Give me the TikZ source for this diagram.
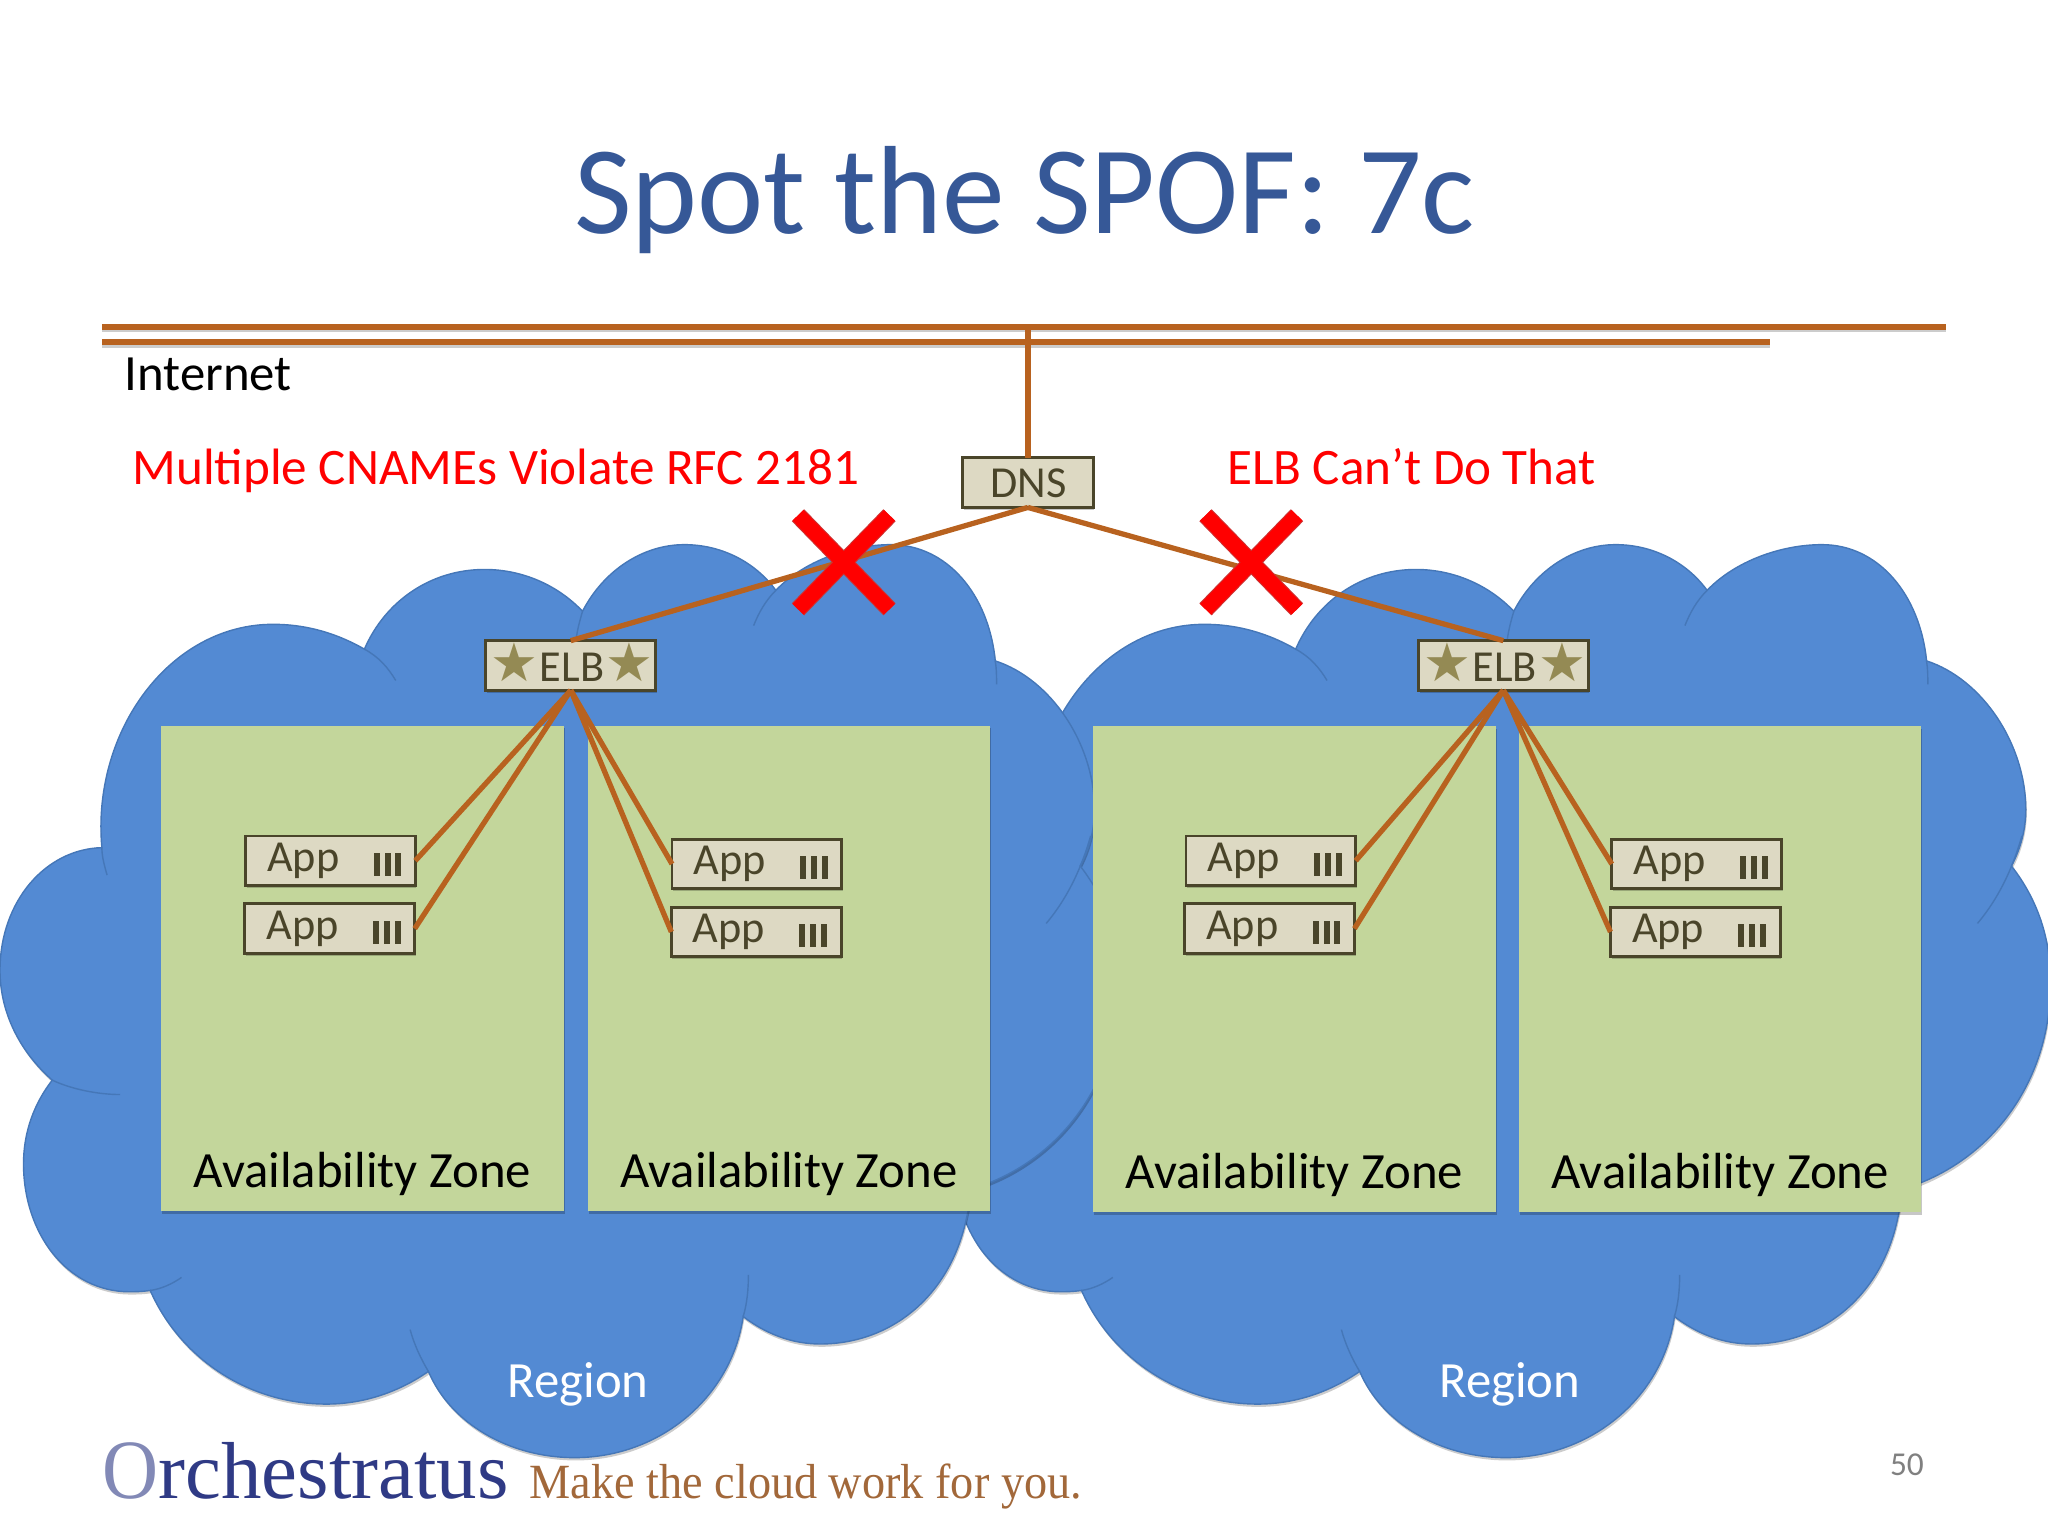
\documentclass[tikz,border=0pt]{standalone}
\usepackage{fontspec}
\setmainfont{Carlito}
\newfontfamily\starfont{DejaVu Sans}
\newfontfamily\logofont{Liberation Serif}
\usetikzlibrary{calc,shadows}
\definecolor{cloudblue}{HTML}{538AD3}
\definecolor{cloudedge}{HTML}{4577B8}
\definecolor{zonegreen}{HTML}{C3D69B}
\definecolor{boxfill}{HTML}{DDD9C3}
\definecolor{boxedge}{HTML}{4A452A}
\definecolor{wire}{HTML}{B8621F}
\definecolor{starcol}{HTML}{948A54}
\definecolor{titleblue}{HTML}{365897}
\definecolor{logoblue}{HTML}{2F3A85}
\definecolor{logobrown}{HTML}{A2683A}
\newcommand\fsz[1]{\fontsize{#1}{#1}\selectfont}
\newlength\myu
\setlength\myu{0.37162pt}
\tikzset{
  softshadow/.style={drop shadow={shadow xshift=0.3pt,shadow yshift=-0.7pt,opacity=0.22,fill=black}},
  zone/.style={fill=zonegreen,draw=none,inner sep=0pt,outer sep=0pt,anchor=north west,minimum width=308\myu,minimum height=372\myu,softshadow},
  tinybox/.style={draw=boxedge,line width=0.8pt,fill=boxfill,inner sep=0pt,outer sep=0pt,minimum width=130\myu,minimum height=38\myu,softshadow,text=boxedge},
  dnsbox/.style={tinybox,minimum width=100\myu},
  boxlabel/.style={inner sep=0pt,text=boxedge,font=\fsz{12.6}},
  link/.style={draw=wire,line width=1.5pt},
  zonelabel/.style={inner sep=0pt,anchor=base,font=\fsz{14.45},text=black},
  redlabel/.style={inner sep=0pt,anchor=base west,font=\fsz{14.55},text=red},
  regionlabel/.style={inner sep=0pt,anchor=base,font=\fsz{14.45},text=white},
  inner line/.style={draw=cloudedge,line width=0.4pt},
  cross/.style={line width=4.3pt,draw=red},
  crossedge/.style={line width=4.9pt,draw=red!60!gray},
  cloudshape/.style={fill=cloudblue,draw=cloudedge,line width=0.4pt,drop shadow={shadow xshift=0.3pt,shadow yshift=-0.8pt,opacity=0.2,fill=black}},
}
\newcommand\cloudpath{
  (78,649) .. controls (70,560) and (130,478) .. (209,478) .. controls (235,478) and (258,485) .. (279,497)
  .. controls (295,460) and (330,436) .. (371,436) .. controls (400,436) and (427,448) .. (446,468)
  .. controls (462,437) and (492,417) .. (524,417) .. controls (552,417) and (578,430) .. (594,452)
  .. controls (615,430) and (650,417) .. (682,417) .. controls (725,417) and (757,455) .. (762,506)
  .. controls (805,520) and (838,570) .. (838,620) .. controls (838,635) and (834,650) .. (827,663)
  .. controls (848,690) and (857,720) .. (857,752) .. controls (857,830) and (810,890) .. (745,910)
  -- (739,937) .. controls (725,995) and (680,1029) .. (628,1029) .. controls (606,1029) and (586,1021) .. (569,1008)
  .. controls (560,1070) and (505,1116) .. (440,1116) .. controls (390,1116) and (345,1090) .. (328,1050)
  .. controls (305,1066) and (278,1075) .. (250,1075) .. controls (190,1075) and (138,1040) .. (115,988)
  .. controls (108,989) and (103,989) .. (99,989) .. controls (52,989) and (18,945) .. (18,891) .. controls (18,867) and (26,845) .. (40,827)
  .. controls (15,805) and (0,775) .. (0,743) .. controls (0,690) and (35,650) .. (78,649)
  -- cycle
}
\newcommand\cloudinner{
  \draw[inner line] (279,497) .. controls (290,503) and (297,511) .. (303,521);
  \draw[inner line] (446,468) .. controls (444,475) and (442,482) .. (441,490);
  \draw[inner line] (594,452) .. controls (586,460) and (581,469) .. (577,479);
  \draw[inner line] (762,506) .. controls (763,512) and (763,518) .. (763,524);
  \draw[inner line] (78,649) .. controls (78,656) and (80,663) .. (82,670);
  \draw[inner line] (40,827) .. controls (55,834) and (75,838) .. (92,838);
  \draw[inner line] (115,988) .. controls (123,987) and (132,983) .. (139,978);
  \draw[inner line] (328,1050) .. controls (322,1040) and (317,1029) .. (314,1018);
  \draw[inner line] (569,1008) .. controls (572,998) and (573,987) .. (573,976);
  \draw[inner line] (835,640) .. controls (828,665) and (817,688) .. (801,707);
}
\newcommand\appunit[3]{%
  \node[tinybox] (#1) at (#2,#3) {};
  \node[boxlabel,anchor=base west] (#1t) at ($(#1.west)+(16,8)$) {App};
  \foreach \o in {-29.7,-21.3,-13}
    \fill[boxedge] ($(#1.east)+(\o-2.3,-6)$) rectangle ($(#1.east)+(\o+2.3,11.4)$);
}
\newcommand\bigstar{{\starfont\fsz{15.2}\textcolor{starcol}{★}}}
\begin{document}
\begin{tikzpicture}[x=0.013061cm,y=-0.013061cm]
\useasboundingbox (0,0) rectangle (1568,1176);
\clip (0,0) rectangle (1568,1176);
% title
\node[inner sep=0pt,anchor=base,font=\fsz{35.7},text=titleblue] (title) at (784.5,179) {Spot the SPOF: 7c};
% internet bars
\coordinate (netaL) at (78,250); \coordinate (netaR) at (1490,250);
\coordinate (netbL) at (78,262); \coordinate (netbR) at (1355,262);
\coordinate (netdrop) at (787,250);
\draw[gray,opacity=0.4,line width=1.5pt] ([yshift=-0.8pt]netaL) -- ([yshift=-0.8pt]netaR);
\draw[gray,opacity=0.4,line width=1.5pt] ([yshift=-0.8pt]netbL) -- ([yshift=-0.8pt]netbR);
\draw[link,line width=1.7pt] (netaL) -- (netaR);
\draw[link,line width=1.7pt] (netbL) -- (netbR);
\node[inner sep=0pt,anchor=base west,font=\fsz{14.45}] (inet) at (95,299) {Internet};
\node[redlabel] (rfc) at (101,371) {Multiple CNAMEs Violate RFC 2181};
\node[redlabel] (cant) at (939,371) {ELB Can’t Do That};
% clouds: right first, then left on top
\begin{scope}[xshift=713*0.013061cm]
  \path[cloudshape] \cloudpath;
  \cloudinner
\end{scope}
\path[cloudshape] \cloudpath;
\cloudinner
% zones
\node[zone] (z1) at (123.5,555.5) {};
\node[zone] (z2) at (450,555.5) {};
\node[zone] (z3) at (837,556) {};
\node[zone] (z4) at (1163,556) {};
\node[zonelabel] (z1t) at (277.5,909) {Availability Zone};
\node[zonelabel] (z2t) at (604,909) {Availability Zone};
\node[zonelabel] (z3t) at (991,910) {Availability Zone};
\node[zonelabel] (z4t) at (1317,910) {Availability Zone};
\node[regionlabel] (r1) at (442.5,1070) {Region};
\node[regionlabel] (r2) at (1156,1070) {Region};
% boxes
\node[dnsbox] (dns) at (787,369.5) {};
\node[tinybox] (elb1) at (437,509.5) {};
\node[tinybox] (elb2) at (1151,509.5) {};
\appunit{a1}{253}{659}
\appunit{a2}{252.5}{711}
\appunit{a3}{579.5}{661.5}
\appunit{a4}{579}{713.5}
\appunit{a5}{973}{659}
\appunit{a6}{972}{711}
\appunit{a7}{1299}{661.5}
\appunit{a8}{1298}{713.5}
% connectors
\draw[link,line width=1.7pt] (netdrop) -- (dns.north);
\draw[link] (dns.south) -- (elb1.north);
\draw[link] (dns.south) -- (elb2.north);
\foreach \a in {a1,a2} \draw[link] (elb1.south) -- (\a.east);
\foreach \a in {a3,a4} \draw[link] (elb1.south) -- (\a.west);
\foreach \a in {a5,a6} \draw[link] (elb2.south) -- (\a.east);
\foreach \a in {a7,a8} \draw[link] (elb2.south) -- (\a.west);
% box captions
\node[boxlabel,anchor=base] (dnst) at (787.5,381) {DNS};
\node[boxlabel,anchor=base] (elb1t) at (438,522) {\bigstar\kern0.4pt ELB\kern0.4pt\bigstar};
\node[boxlabel,anchor=base] (elb2t) at (1152,522) {\bigstar\kern0.4pt ELB\kern0.4pt\bigstar};
% crosses
\foreach \cx in {646,958} {
  \draw[crossedge] (\cx-35,394.5) -- (\cx+35,466.5);
  \draw[crossedge] (\cx+35,394.5) -- (\cx-35,466.5);
  \draw[cross] (\cx-35,394.5) -- (\cx+35,466.5);
  \draw[cross] (\cx+35,394.5) -- (\cx-35,466.5);
}
% logo and page number
\node[inner sep=0pt,anchor=base west,text=logoblue] (logo) at (78,1147)
  {\logofont\scalebox{0.92}[1]{\textcolor{logoblue!60}{\fsz{24}O}}\fsz{23}rchestratus};
\node[inner sep=0pt,anchor=base west,text=logobrown] (slogan) at (405,1147)
  {\logofont\fsz{14}\scalebox{0.94}[1]{Make the cloud work for you.}};
\node[inner sep=0pt,anchor=base,text=gray,font=\fsz{9.5}] (pg) at (1460,1130) {50};
\end{tikzpicture}
\end{document}
